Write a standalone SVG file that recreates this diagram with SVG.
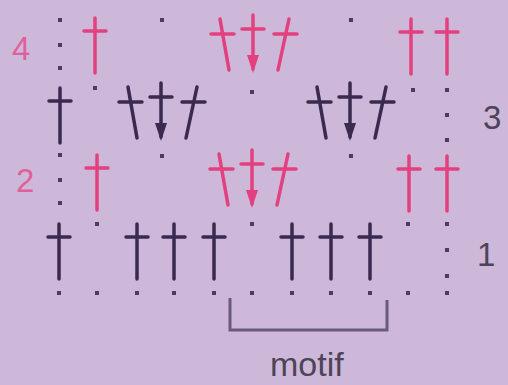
<svg xmlns="http://www.w3.org/2000/svg" xmlns:xlink="http://www.w3.org/1999/xlink" width="508" height="385" viewBox="0 0 508 385">
<style>
.blk{stroke:#3b2a4f;fill:#3b2a4f}
.pnk{stroke:#e2407e;fill:#e2407e}
.st{stroke-width:3.5;stroke-linecap:round;fill:none}
.dot{fill:#4b3d5c}
.lbl{font-family:"Liberation Sans",Arial,sans-serif;font-size:33px}
.lp{fill:#e0609a}
.lg{fill:#4d4458}
</style>
<defs>
<g id="dc">
<path d="M0,0V55M-11,13H11" stroke-width="3.5" stroke-linecap="round" fill="none"/>
</g>
<g id="cl">
<path d="M0,0V54M-11,14H11M-33,4L-24,55M-42,19H-19M36,4L25,55M21,19H44" stroke-width="3.5" stroke-linecap="round" fill="none"/>
<polygon points="-6,40 6,40 0,58" stroke="none"/>
</g>
<rect id="d" x="-2" y="-2" width="4" height="4"/>
</defs>
<rect width="508" height="385" fill="#cdb8da"/>

<g id="chains" class="dot">
<use xlink:href="#d" x="59" y="293"/><use xlink:href="#d" x="97" y="293"/><use xlink:href="#d" x="137" y="293"/><use xlink:href="#d" x="174" y="293"/><use xlink:href="#d" x="214" y="293"/><use xlink:href="#d" x="252" y="293"/><use xlink:href="#d" x="292" y="293"/><use xlink:href="#d" x="331" y="293"/><use xlink:href="#d" x="370" y="293"/><use xlink:href="#d" x="408" y="293"/><use xlink:href="#d" x="447" y="293"/>
<use xlink:href="#d" x="97" y="224"/><use xlink:href="#d" x="252" y="224"/><use xlink:href="#d" x="408" y="224"/><use xlink:href="#d" x="447" y="224"/><use xlink:href="#d" x="447" y="250"/><use xlink:href="#d" x="447" y="276"/>
<use xlink:href="#d" x="60" y="155"/><use xlink:href="#d" x="60" y="180"/><use xlink:href="#d" x="60" y="203"/>
<use xlink:href="#d" x="162" y="156"/><use xlink:href="#d" x="351" y="156"/>
<use xlink:href="#d" x="95" y="88"/><use xlink:href="#d" x="252" y="92"/><use xlink:href="#d" x="413" y="90"/><use xlink:href="#d" x="447" y="90"/><use xlink:href="#d" x="447" y="115"/><use xlink:href="#d" x="447" y="140"/>
<use xlink:href="#d" x="60" y="20"/><use xlink:href="#d" x="60" y="45"/><use xlink:href="#d" x="60" y="68"/>
<use xlink:href="#d" x="162" y="20"/><use xlink:href="#d" x="351" y="20"/>
</g>

<g id="row1" class="blk">
<use xlink:href="#dc" x="59" y="224"/><use xlink:href="#dc" x="137" y="224"/><use xlink:href="#dc" x="174" y="224"/><use xlink:href="#dc" x="214" y="224"/><use xlink:href="#dc" x="292" y="224"/><use xlink:href="#dc" x="331" y="224"/><use xlink:href="#dc" x="370" y="224"/>
</g>
<g id="row2" class="pnk">
<use xlink:href="#dc" x="97" y="155"/><use xlink:href="#cl" x="252" y="150"/><use xlink:href="#dc" x="409" y="156"/><use xlink:href="#dc" x="447" y="156"/>
</g>
<g id="row3" class="blk">
<use xlink:href="#dc" x="60" y="88"/><use xlink:href="#cl" x="161" y="83"/><use xlink:href="#cl" x="350" y="83"/>
</g>
<g id="row4" class="pnk">
<use xlink:href="#dc" x="95" y="18"/><use xlink:href="#cl" x="253" y="15"/><use xlink:href="#dc" x="411" y="19"/><use xlink:href="#dc" x="447" y="19"/>
</g>

<g id="connectors">
<path id="motif-bracket" d="M230,298V330H387V300" fill="none" stroke="#6b5b7b" stroke-width="3"/>
</g>

<g id="labels" class="lbl">
<text class="lp" x="12" y="60">4</text>
<text class="lg" x="483" y="129">3</text>
<text class="lp" x="16" y="192">2</text>
<text class="lg" x="477" y="266">1</text>
<text class="lg" x="270" y="376" font-size="34">motif</text>
</g>
</svg>
